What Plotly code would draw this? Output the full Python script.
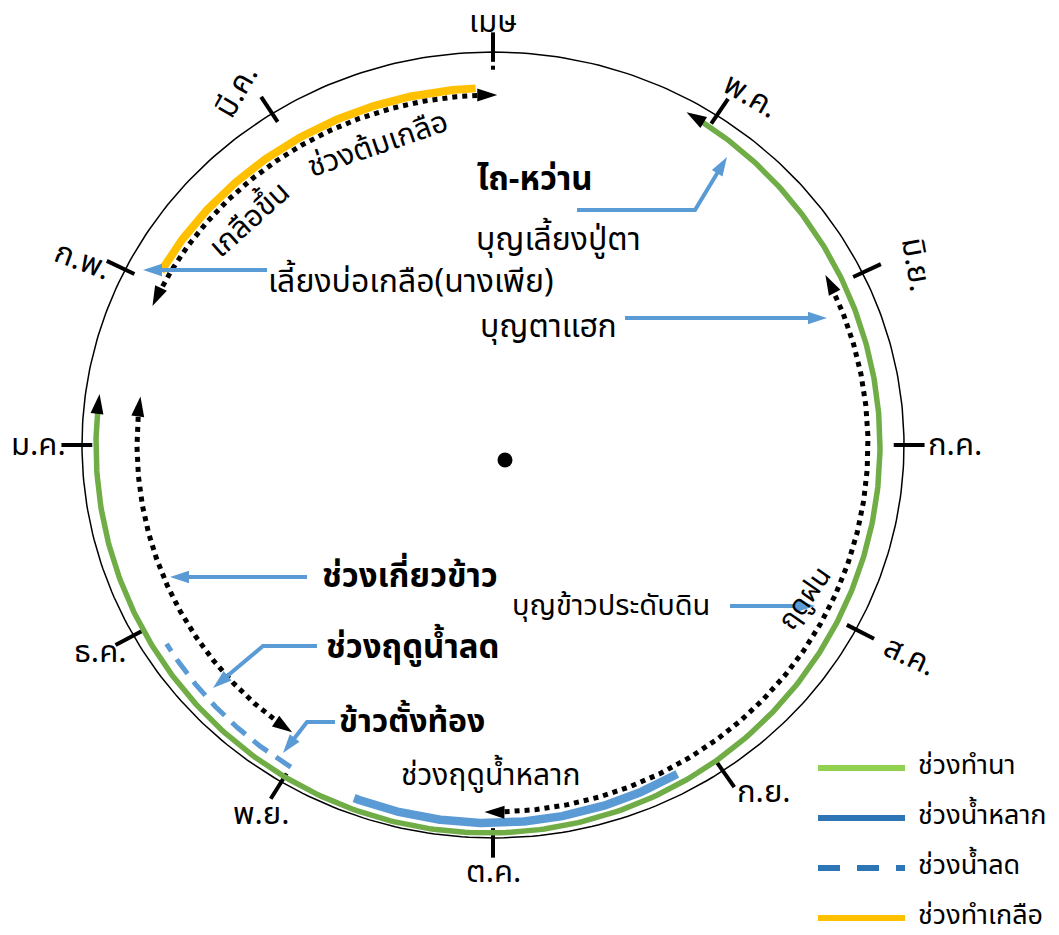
import numpy as np
import plotly.graph_objects as go

# months counted clockwise from เมษ (April) = 0
month_names = ['เมษ', 'พ.ค.', 'มิ.ย.', 'ก.ค.', 'ส.ค.', 'ก.ย.',
               'ต.ค.', 'พ.ย.', 'ธ.ค.', 'ม.ค.', 'ก.พ.', 'มี.ค.']
month_angle = [90, 57, 26, 0, -28, -56, -90, -121, -151, -180, -206.5, -237.5]
month_text_angle = [0, 30, 80, 0, 25, 0, 0, 0, 0, 0, 20, -60]
# how far out each month label sits, and a small shift along the rim
label_scale = [1.076, 1.087, 1.125, 1.124, 1.147, 1.103, 1.087, 1.096, 1.091, 1.107, 1.102, 1.093]
label_shift = [0, 0.07, 0.07, 0, 0, -0.09, 0, 0, 0, 0, -0.05, -0.07]

# periods in months from เมษ (start, end)
rice_period = [0.92, 9.29]      # ช่วงทำนา
flood_period = [5.14, 6.67]     # ช่วงน้ำหลาก
recede_period = [7.02, 7.91]    # ช่วงน้ำลด
salt_period = [10.09, 11.92]    # ช่วงทำเกลือ
boil_period = [9.89, 12.02]     # ช่วงต้มเกลือ (dotted)
rain_period = [1.945, 6.04]     # ฤดูฝน (dotted)
harvest_period = [7.11, 9.3]    # ช่วงเกี่ยวข้าว (dotted)

legend_names = ['ช่วงทำนา', 'ช่วงน้ำหลาก', 'ช่วงน้ำลด', 'ช่วงทำเกลือ']

FONT = 'Noto Sans Thai, Leelawadee UI, Tahoma, Noto Sans, sans-serif'
GREEN = '#70AD47'
BLUE = '#5B9BD5'
YELLOW = '#FFC000'

# ring ellipses in screen pixels: cx, cy, rx, ry
R_MAIN = (493, 445, 411, 393)
R_GREEN = (488, 446, 392, 387)
R_BLUE = (490, 446, 380, 377)
R_YELLOW = (493, 445, 380, 357)
R_BOIL = (493, 445, 371, 350)
R_RAIN = (493, 445, 375, 367)
R_HARVEST = (493, 445, 356, 348)

_base = np.array(month_angle, dtype=float)


def _ang_at(k):
    return _base[k % 12] - 360.0 * (k // 12)


def to_angle(t):
    # smooth (catmull-rom) path through the month tick angles
    t = np.asarray(t, dtype=float)
    i = np.floor(t).astype(int)
    u = t - i
    p0, p1, p2, p3 = _ang_at(i - 1), _ang_at(i), _ang_at(i + 1), _ang_at(i + 2)
    return 0.5 * (2 * p1 + (-p0 + p2) * u + (2 * p0 - 5 * p1 + 4 * p2 - p3) * u ** 2
                  + (-p0 + 3 * p1 - 3 * p2 + p3) * u ** 3)


def ring_xy(ring, t, scale=1.0):
    cx, cy, rx, ry = ring
    a = np.radians(to_angle(t))
    return cx + scale * rx * np.cos(a), cy - scale * ry * np.sin(a)


fig = go.Figure()


def add_arc(ring, t0, t1, color, width, dash='solid'):
    t = np.linspace(t0, t1, 400)
    x, y = ring_xy(ring, t)
    fig.add_trace(go.Scatter(x=x, y=y, mode='lines',
                             line=dict(color=color, width=width, dash=dash),
                             hoverinfo='skip'))


def head(x, y, dx, dy, color='black', size=21):
    ang = np.degrees(np.arctan2(dx, -dy))
    fig.add_trace(go.Scatter(x=[x], y=[y], mode='markers',
                             marker=dict(symbol='arrow', size=size, angle=ang,
                                         color=color, line=dict(width=0)),
                             hoverinfo='skip'))


def arc_head(ring, t_tip, back):
    x, y = ring_xy(ring, t_tip)
    px, py = ring_xy(ring, t_tip - back)
    head(float(x), float(y), float(x - px), float(y - py))


def arrow_arc(ring, period, color, width, dash='solid', gap=0.07):
    t0, t1 = period
    add_arc(ring, t0 + gap, t1 - gap, color, width, dash)
    arc_head(ring, t0, -0.03)
    arc_head(ring, t1, 0.03)


# outer circle
add_arc(R_MAIN, 0, 12, 'black', 1.5)

# month ticks and labels
for i, name in enumerate(month_names):
    x0, y0 = ring_xy(R_MAIN, i, 0.975)
    x1, y1 = ring_xy(R_MAIN, i, 1.05)
    fig.add_trace(go.Scatter(x=[x0, x1], y=[y0, y1], mode='lines',
                             line=dict(color='black', width=4), hoverinfo='skip'))
    lx, ly = ring_xy(R_MAIN, i + label_shift[i], label_scale[i])
    fig.add_annotation(x=float(lx), y=float(ly), text=name, showarrow=False,
                       textangle=month_text_angle[i],
                       font=dict(family=FONT, size=31, color='black'))

# small mark under เมษ and centre dot
mx, my = ring_xy(R_MAIN, 0, 0.96)
fig.add_trace(go.Scatter(x=[mx], y=[my], mode='markers',
                         marker=dict(symbol='square', size=4, color='black'),
                         hoverinfo='skip'))
fig.add_trace(go.Scatter(x=[R_MAIN[0] + 12], y=[R_MAIN[1] + 15], mode='markers',
                         marker=dict(symbol='circle', size=15, color='black'),
                         hoverinfo='skip'))

# coloured periods
arrow_arc(R_GREEN, rice_period, GREEN, 5.5)
add_arc(R_BLUE, flood_period[0], flood_period[1], BLUE, 8.5)
add_arc(R_BLUE, recede_period[0], recede_period[1], BLUE, 5, dash='18px,10px')
add_arc(R_YELLOW, salt_period[0], salt_period[1], YELLOW, 8)

# dotted seasons
arrow_arc(R_BOIL, boil_period, 'black', 5, dash='dot')
arrow_arc(R_RAIN, rain_period, 'black', 5, dash='dot')
arrow_arc(R_HARVEST, harvest_period, 'black', 5, dash='dot')

# blue callout leaders
callouts = [
    [(577, 210), (695, 210), (727, 157)],
    [(267, 270), (143, 270)],
    [(625, 318), (827, 318)],
    [(307, 577), (170, 577)],
    [(317, 646), (263, 646), (213, 688)],
    [(335, 722), (307, 722), (283, 753)],
    [(730, 606), (815, 606)],
]
for pts in callouts:
    xs = [p[0] for p in pts]
    ys = [p[1] for p in pts]
    dx, dy = xs[-1] - xs[-2], ys[-1] - ys[-2]
    n = np.hypot(dx, dy)
    lx = xs[:-1] + [xs[-1] - dx / n * 12]
    ly = ys[:-1] + [ys[-1] - dy / n * 12]
    fig.add_trace(go.Scatter(x=lx, y=ly, mode='lines',
                             line=dict(color=BLUE, width=4), hoverinfo='skip'))
    head(xs[-1], ys[-1], dx, dy, color=BLUE, size=20)

# text labels
labels = [
    ('<b>ไถ-หว่าน</b>', 535, 180, 0, 33),
    ('บุญเลี้ยงปู่ตา', 558, 240, 0, 32),
    ('เลี้ยงบ่อเกลือ(นางเพีย)', 411, 282, 0, 32),
    ('บุญตาแฮก', 548, 327, 0, 32),
    ('<b>ช่วงเกี่ยวข้าว</b>', 410, 577, 0, 33),
    ('<b>ช่วงฤดูน้ำลด</b>', 412, 648, 0, 33),
    ('<b>ข้าวตั้งท้อง</b>', 412, 722, 0, 32),
    ('บุญข้าวประดับดิน', 611, 606, 0, 29),
    ('ช่วงฤดูน้ำหลาก', 490, 776, 0, 30),
    ('ฤดูฝน', 805, 598, -55, 28),
    ('ช่วงต้มเกลือ', 378, 145, -19, 30),
    ('เกลือขึ้น', 250, 220, -42, 30),
]
for txt, x, y, ang, size in labels:
    fig.add_annotation(x=x, y=y, text=txt, showarrow=False, textangle=ang,
                       font=dict(family=FONT, size=size, color='black'))

# legend drawn by hand
legend_styles = [('#92D050', 'solid'), ('#2E75B6', 'solid'),
                 ('#2E75B6', '22px,17px'), (YELLOW, 'solid')]
for i, name in enumerate(legend_names):
    y = 768 + 50 * i
    color, dash = legend_styles[i]
    fig.add_trace(go.Scatter(x=[818, 905], y=[y, y], mode='lines',
                             line=dict(color=color, width=6, dash=dash),
                             hoverinfo='skip'))
    fig.add_annotation(x=916, y=y - 3, text=name, showarrow=False, xanchor='left',
                       font=dict(family=FONT, size=27, color='black'))

fig.update_layout(
    width=1059,
    height=935,
    margin=dict(l=0, r=0, t=0, b=0),
    paper_bgcolor='white',
    plot_bgcolor='white',
    showlegend=False,
    xaxis=dict(range=[0, 1059], visible=False, fixedrange=True),
    yaxis=dict(range=[935, 0], visible=False, fixedrange=True),
)

fig.write_html("out.html", config={'displayModeBar': False},
               post_script="document.body.style.margin='0px';")
